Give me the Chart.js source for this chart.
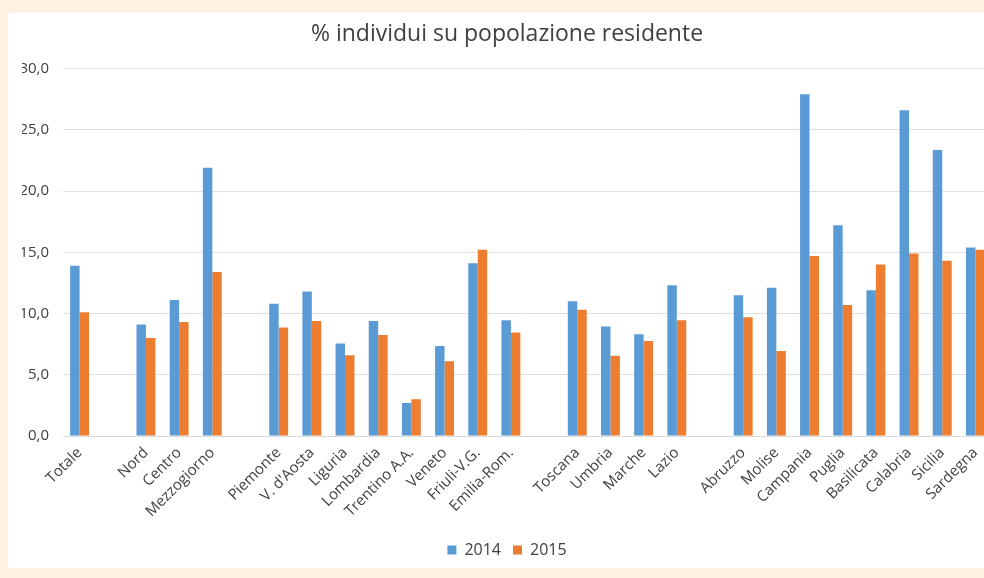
<!DOCTYPE html>
<html>
<head>
<meta charset="utf-8">
<script src="https://cdn.jsdelivr.net/npm/chart.js@4.4.1/dist/chart.umd.min.js"></script>
<style>
  html, body { margin: 0; padding: 0; background: #fdf2e2; overflow: hidden; }
  #wrap { position: absolute; left: 8px; top: 13px; width: 998px; height: 555px; background: #ffffff; }
</style>
</head>
<body>
<div id="wrap"><canvas id="chart"></canvas></div>
<script>
// empty labels are the gaps between the groups
const regions = ['Totale', '', 'Nord', 'Centro', 'Mezzogiorno', '',
  'Piemonte', "V. d'Aosta", 'Liguria', 'Lombardia', 'Trentino A.A.', 'Veneto', 'Friuli-V.G.', 'Emilia-Rom.', '',
  'Toscana', 'Umbria', 'Marche', 'Lazio', '',
  'Abruzzo', 'Molise', 'Campania', 'Puglia', 'Basilicata', 'Calabria', 'Sicilia', 'Sardegna'];

const values2014 = [13.9, null, 9.1, 11.1, 21.9, null,
  10.8, 11.8, 7.55, 9.4, 2.7, 7.35, 14.1, 9.45, null,
  11.0, 8.95, 8.3, 12.3, null,
  11.5, 12.1, 27.9, 17.2, 11.9, 26.6, 23.35, 15.4];

const values2015 = [10.1, null, 8.0, 9.3, 13.4, null,
  8.85, 9.4, 6.6, 8.25, 3.0, 6.1, 15.2, 8.45, null,
  10.3, 6.55, 7.75, 9.45, null,
  9.7, 6.95, 14.7, 10.7, 14.0, 14.9, 14.3, 15.2];

const yTicks = [0, 5, 10, 15, 20, 25, 30];

const fontFamily = "'Open Sans', sans-serif";

new Chart(document.getElementById('chart'), {
  type: 'bar',
  data: {
    labels: regions,
    datasets: [
      { label: '2014', data: values2014, backgroundColor: '#5b9bd5' },
      { label: '2015', data: values2015, backgroundColor: '#ed7d31' }
    ]
  },
  options: {
    responsive: true,
    maintainAspectRatio: false,
    animation: false,
    layout: { padding: { left: 14, right: 14, top: 0, bottom: 0 } },
    datasets: { bar: { categoryPercentage: 0.57, barPercentage: 1 } },
    plugins: {
      title: {
        display: true,
        text: '% individui su popolazione residente',
        color: '#404040',
        font: { family: fontFamily, size: 23, weight: 'normal' },
        padding: { top: 8, bottom: 20 }
      },
      legend: {
        position: 'bottom',
        labels: {
          boxWidth: 9,
          boxHeight: 9,
          color: '#404040',
          font: { family: fontFamily, size: 16 },
          padding: 12
        }
      },
      tooltip: { enabled: false }
    },
    scales: {
      x: {
        grid: { display: false, drawTicks: false },
        border: { display: true, color: '#d9d9d9' },
        ticks: {
          color: '#404040',
          font: { family: fontFamily, size: 15 },
          minRotation: 45,
          maxRotation: 45,
          autoSkip: false,
          padding: 8
        },
        afterFit: (scale) => { scale.height = 94; }
      },
      y: {
        min: 0,
        max: 30,
        afterBuildTicks: (scale) => { scale.ticks = yTicks.map(v => ({ value: v })); },
        grid: { color: '#e0e0e0', drawTicks: false },
        border: { display: false },
        ticks: {
          color: '#404040',
          font: { family: fontFamily, size: 15 },
          padding: 14,
          callback: (v) => v.toFixed(1).replace('.', ',')
        },
        afterFit: (scale) => { scale.width = 41; }
      }
    }
  }
});
</script>
</body>
</html>
